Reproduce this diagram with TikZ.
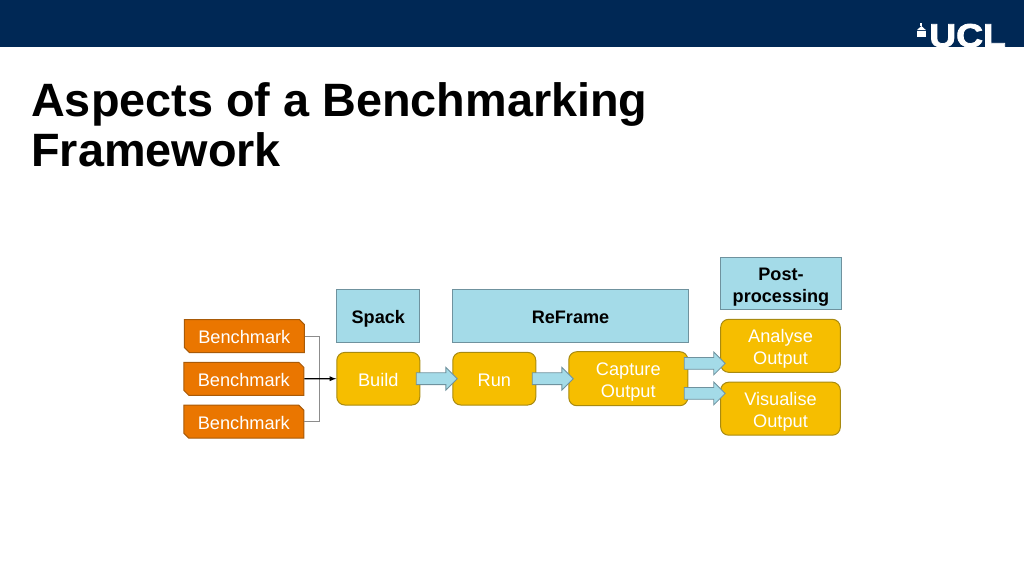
\documentclass[tikz,border=0pt]{standalone}
\usepackage{fontspec}
\setmainfont{Liberation Sans}
\newfontfamily\uclfont[FakeBold=2.4]{Liberation Sans Bold}
\usetikzlibrary{arrows, positioning, shapes.misc, shapes.arrows}

\definecolor{navy}{HTML}{002855}
\definecolor{orangefill}{HTML}{EA7600}
\definecolor{orangeline}{HTML}{A85A08}
\definecolor{yellowfill}{HTML}{F6BE00}
\definecolor{yellowline}{HTML}{A88A10}
\definecolor{bluefill}{HTML}{A4DBE8}
\definecolor{blueline}{HTML}{6F929E}

\newcommand{\labelstrut}{\rule[-3.8pt]{0pt}{22.8pt}}

\tikzset{
  bench/.style={chamfered rectangle, chamfered rectangle corners={north east, south west},
    chamfered rectangle xsep=2.5pt, chamfered rectangle ysep=2.5pt, draw=orangeline, fill=orangefill,
    line width=1pt, text=white, inner sep=0pt, minimum width=120pt, minimum height=33pt,
    font=\fontsize{18.2}{22}\selectfont},
  tool/.style={rectangle, draw=blueline, fill=bluefill, line width=1.1pt, inner sep=0pt,
    align=center, font=\fontsize{18.1}{22}\selectfont\bfseries},
  stage/.style={rectangle, rounded corners=8pt, draw=yellowline, fill=yellowfill, line width=1pt,
    text=white, inner sep=0pt, align=center, font=\fontsize{18.2}{22}\selectfont},
  blockarrow/.style={single arrow, draw=blueline, fill=bluefill, line width=0.8pt,
    inner xsep=0pt, inner ysep=5.5pt, xshift=-2.5pt,
    minimum height=41pt, minimum width=22pt, single arrow head extend=5.5pt}
}

\begin{document}
\begin{tikzpicture}[x=1pt, y=-1pt, >=latex, on grid]
  \useasboundingbox (0,0) rectangle (1024,576);
  \fill[navy] (0,0) rectangle (1024,47);

  % logo
  \node[anchor=base west, inner sep=0pt, text=white, xscale=1.13,
    font=\fontsize{33}{33}\selectfont\uclfont] (ucl) at (929,47) {UCL};
  \fill[white] (917,30) -- (921.4,26) -- (925.8,30) -- cycle;
  \fill[white] (920.4,26) rectangle (922.4,23);
  \fill[white] (917,31) rectangle (925.8,34.5);
  \fill[white] (916.5,35) rectangle (926.3,36.5);

  \node[anchor=north west, inner sep=0pt, align=left,
    font=\fontsize{46.8}{50}\selectfont\bfseries] (title) at (31,82)
    {Aspects of a Benchmarking\\Framework};

  \node[tool, minimum width=83pt, minimum height=52.6pt] (spack) at (378.3,316) {\labelstrut Spack};
  \node[stage, minimum width=83pt, minimum height=52.6pt] (build) [below=62.7pt of spack] {\labelstrut Build};
  \node[stage, minimum width=83pt, minimum height=52.6pt] (run) [right=116pt of build] {\labelstrut Run};
  \node[stage, minimum width=119pt, minimum height=54pt] (capture) [right=134pt of run] {\labelstrut Capture\\Output};
  \node[tool, minimum width=235.6pt, minimum height=52.6pt] (reframe) at (570.5,316) {\labelstrut ReFrame};
  \node[stage, minimum width=119.6pt, minimum height=53pt] (analyse) at (780.5,345.8) {\labelstrut Analyse\\Output};
  \node[stage, minimum width=119.6pt, minimum height=53pt] (visualise) [below=62.9pt of analyse] {\labelstrut Visualise\\Output};
  \node[tool, minimum width=120.6pt, minimum height=52.4pt] (post) at (781,283.5) {\labelstrut Post-\\processing};

  \node[bench] (bench_2) at (243.8,378.8) {\labelstrut Benchmark};
  \node[bench] (bench_1) [above=42.8pt of bench_2, xshift=0.5pt] {\labelstrut Benchmark};
  \node[bench] (bench_3) [below=42.9pt of bench_2] {\labelstrut Benchmark};

  \coordinate (join) at (319.7,378.8);
  \draw[black!45, line width=0.8pt] (bench_1.east) -| (join) |- (bench_3.east);
  \draw[->, line width=1.3pt] (bench_2.east) -- (build.west);

  \path (build.east) -- (run.west) node[midway, blockarrow] (build_run) {};
  \path (run.east) -- (capture.west) node[midway, blockarrow] (run_capture) {};
  \path ([yshift=15.2pt]capture.east) -- ([yshift=-17.5pt]analyse.west) node[midway, blockarrow] (capture_analyse) {};
  \path ([yshift=-14.8pt]capture.east) -- ([yshift=15.4pt]visualise.west) node[midway, blockarrow] (capture_visualise) {};
\end{tikzpicture}
\end{document}
